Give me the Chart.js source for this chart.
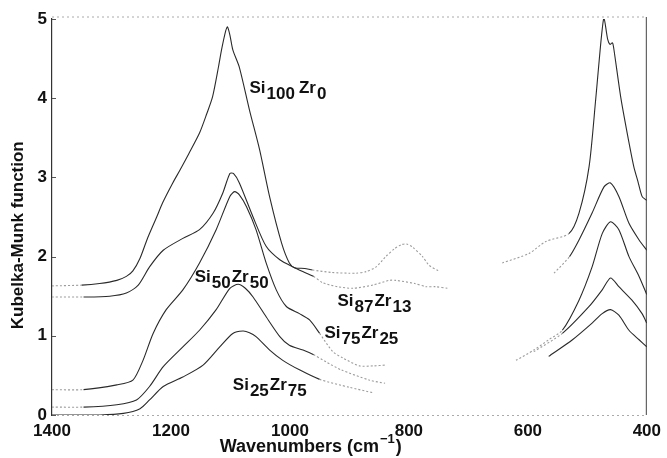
<!DOCTYPE html>
<html>
<head>
<meta charset="utf-8">
<title>Kubelka-Munk spectra</title>
<script src="https://cdn.jsdelivr.net/npm/chart.js@4.4.1/dist/chart.umd.min.js"></script>
<style>
  html, body { margin: 0; padding: 0; background: #fff; }
  #wrap { width: 667px; height: 458px; position: relative; }
</style>
</head>
<body>
<div id="wrap"><canvas id="chart"></canvas></div>
<script>
// ---- data (wavenumber cm-1 / K-M value, null = no data) ----
const wnSi100 = [1400, 1350, 1320, 1291, 1275, 1264, 1252, 1240, 1224, 1214, 1197, 1185, 1170, 1152, 1140, 1130, 1120, 1115, 1108, 1105, 1101, 1096, 1085, 1068, 1051, 1034, 1014, 1001, 992, 975, 962, 930, 900, 889, 872, 855, 839, 824, 813, 804, 794, 777, 766, 750, 700, 643, 598, 570, 531, 514, 497, 486, 481, 476, 472, 466, 462, 458, 456, 444, 433, 422, 415, 408, 402, 400];
const kmSi100 = [1.63, 1.64, 1.66, 1.70, 1.75, 1.82, 1.98, 2.22, 2.50, 2.68, 2.93, 3.09, 3.30, 3.56, 3.80, 4.02, 4.40, 4.61, 4.85, 4.90, 4.80, 4.61, 4.39, 3.85, 3.35, 2.75, 2.17, 1.92, 1.86, 1.85, 1.83, 1.80, 1.79, 1.79, 1.81, 1.87, 2.00, 2.10, 2.15, 2.16, 2.12, 2.00, 1.89, 1.82, null, 1.92, 2.04, 2.19, 2.29, 2.55, 3.14, 3.98, 4.40, 4.80, 5.01, 4.75, 4.68, 4.70, 4.65, 4.02, 3.56, 3.14, 2.95, 2.76, 2.72, 2.71];

const wnSi87 = [1400, 1347, 1303, 1275, 1255, 1236, 1213, 1180, 1152, 1129, 1113, 1101, 1095, 1085, 1062, 1040, 1017, 995, 975, 960, 945, 920, 894, 861, 833, 822, 790, 771, 755, 735, 650, 556, 530, 514, 492, 472, 461, 447, 430, 413, 400];
const kmSi87 = [1.49, 1.49, 1.50, 1.54, 1.64, 1.87, 2.08, 2.23, 2.34, 2.55, 2.80, 3.05, 3.05, 2.93, 2.50, 2.13, 1.96, 1.87, 1.80, 1.75, 1.67, 1.62, 1.60, 1.64, 1.70, 1.70, 1.66, 1.62, 1.62, 1.60, null, 1.79, 2.00, 2.21, 2.55, 2.88, 2.93, 2.76, 2.42, 2.21, 2.08];

const wnSi75 = [1400, 1347, 1291, 1264, 1247, 1230, 1208, 1180, 1152, 1124, 1101, 1093, 1085, 1073, 1057, 1040, 1023, 1006, 984, 967, 950, 928, 911, 883, 860, 839, 700, 620, 590, 565, 542, 514, 492, 475, 461, 447, 430, 413, 400];
const kmSi75 = [0.32, 0.32, 0.38, 0.44, 0.69, 1.03, 1.33, 1.58, 1.92, 2.34, 2.76, 2.82, 2.78, 2.63, 2.34, 1.92, 1.58, 1.37, 1.28, 1.20, 1.03, 0.80, 0.72, 0.62, 0.62, 0.63, null, 0.69, 0.82, 0.95, 1.07, 1.45, 1.87, 2.29, 2.44, 2.34, 2.00, 1.75, 1.52];

const wnSi50 = [1400, 1347, 1291, 1258, 1236, 1213, 1180, 1152, 1124, 1101, 1087, 1075, 1062, 1040, 1017, 1001, 978, 960, 939, 914, 866, 840, 700, 590, 542, 497, 475, 461, 447, 425, 408, 400];
const kmSi50 = [0.10, 0.10, 0.13, 0.19, 0.36, 0.61, 0.86, 1.07, 1.33, 1.60, 1.65, 1.60, 1.49, 1.24, 0.99, 0.88, 0.82, 0.76, 0.67, 0.57, 0.44, 0.40, null, 0.80, 1.03, 1.37, 1.58, 1.73, 1.62, 1.45, 1.28, 1.16];

const wnSi25 = [1400, 1319, 1280, 1252, 1236, 1213, 1180, 1146, 1118, 1096, 1079, 1068, 1057, 1034, 1012, 984, 950, 900, 860, 700, 565, 525, 492, 475, 461, 447, 430, 413, 400];
const kmSi25 = [0.00, 0.00, 0.02, 0.08, 0.19, 0.36, 0.48, 0.63, 0.86, 1.03, 1.06, 1.04, 0.99, 0.82, 0.69, 0.57, 0.45, 0.35, 0.28, null, 0.74, 0.95, 1.16, 1.28, 1.33, 1.26, 1.07, 0.95, 0.86];

// tick labels
const xTicks = [1400, 1200, 1000, 800, 600, 400];
const yTicks = [0, 1, 2, 3, 4, 5];

// curve labels: Si index, Zr index
const labelSi = ['100', '87', '75', '50', '25'];
const labelZr = ['0', '13', '25', '50', '75'];
// where each label sits (wavenumber, K-M value of the text baseline)
const labelWn = [1068, 920, 942, 1160, 1096];
const labelKm = [4.07, 1.38, 0.97, 1.68, 0.32];

// ---- styles ----
const INK = '#2a2a2a';
const FAINT = '#9c9c9c';
const FONT = '"Liberation Sans", Arial, sans-serif';

function toPoints(wn, km) {
  return wn.map((x, i) => ({ x: x, y: km[i] }));
}

// faded parts of the scan: flat baseline at the far left and the weak middle region
function isFaint(c) {
  const a = c.p0.parsed.x, b = c.p1.parsed.x;
  return b >= 1330 || (a <= 965 && b >= 530);
}

function makeSet(name, wn, km) {
  return {
    label: name,
    data: toPoints(wn, km),
    borderColor: INK,
    borderWidth: 1.1,
    pointRadius: 0,
    tension: 0.25,
    spanGaps: false,
    segment: {
      borderColor: c => isFaint(c) ? FAINT : undefined,
      borderDash: c => isFaint(c) ? [2, 2] : undefined
    }
  };
}

// frame, small inner ticks, axis titles and curve labels
const decor = {
  id: 'decor',
  beforeDatasetsDraw(chart) {
    const { ctx, chartArea: a, scales } = chart;
    ctx.save();
    ctx.lineWidth = 1;
    ctx.strokeStyle = '#aaa';
    ctx.setLineDash([2, 3]);
    ctx.beginPath();
    ctx.moveTo(a.left, a.top - 2); ctx.lineTo(a.right, a.top - 2);
    ctx.moveTo(a.left, a.bottom + 0.5); ctx.lineTo(a.right, a.bottom + 0.5);
    ctx.stroke();
    ctx.setLineDash([]);
    ctx.strokeStyle = '#444';
    ctx.beginPath();
    ctx.moveTo(a.right - 0.5, a.top - 2); ctx.lineTo(a.right - 0.5, a.bottom);
    ctx.stroke();
    // short inward ticks on the left axis
    ctx.strokeStyle = '#555';
    ctx.beginPath();
    yTicks.forEach(v => {
      const y = Math.round(scales.y.getPixelForValue(v)) + 0.5;
      ctx.moveTo(a.left, y); ctx.lineTo(a.left + 4, y);
    });
    ctx.stroke();
    ctx.restore();
  },
  afterDraw(chart) {
    const { ctx, chartArea: a, scales } = chart;
    ctx.save();
    ctx.fillStyle = '#111';

    // y title
    ctx.font = 'bold 17px ' + FONT;
    ctx.textAlign = 'center';
    ctx.textBaseline = 'middle';
    ctx.translate(18, scales.y.getPixelForValue(2.27));
    ctx.rotate(-Math.PI / 2);
    ctx.fillText('Kubelka-Munk function', 0, 0);
    ctx.setTransform(1, 0, 0, 1, 0, 0);

    // x title with superscript
    ctx.textAlign = 'left';
    ctx.textBaseline = 'alphabetic';
    const main = 'Wavenumbers (cm';
    ctx.font = 'bold 18px ' + FONT;
    const wMain = ctx.measureText(main).width;
    const wEnd = ctx.measureText(')').width;
    ctx.font = 'bold 13px ' + FONT;
    const wSup = ctx.measureText('\u22121').width;
    const cx = scales.x.getPixelForValue(965);
    const x0 = cx - (wMain + wSup + 2 + wEnd) / 2;
    const base = a.bottom + 37;
    ctx.font = 'bold 18px ' + FONT;
    ctx.fillText(main, x0, base);
    ctx.font = 'bold 13px ' + FONT;
    ctx.fillText('\u22121', x0 + wMain + 1, base - 9);
    ctx.font = 'bold 18px ' + FONT;
    ctx.fillText(')', x0 + wMain + wSup + 2, base);

    // curve labels  Si_n Zr_m
    labelSi.forEach((si, i) => {
      let x = scales.x.getPixelForValue(labelWn[i]);
      const y = scales.y.getPixelForValue(labelKm[i]);
      const parts = [['Si', 0], [si, 6], ['Zr', 0], [labelZr[i], 6]];
      ctx.font = 'bold 17px ' + FONT;
      parts.forEach(([t, dy], k) => {
        ctx.fillText(t, x, y + dy);
        x += ctx.measureText(t).width + 1;
        if (k === 1 && i === 0) x += 3;
      });
    });
    ctx.restore();
  }
};

const datasets = [
  makeSet('Si100Zr0', wnSi100, kmSi100),
  makeSet('Si87Zr13', wnSi87, kmSi87),
  makeSet('Si75Zr25', wnSi75, kmSi75),
  makeSet('Si50Zr50', wnSi50, kmSi50),
  makeSet('Si25Zr75', wnSi25, kmSi25)
];

new Chart(document.getElementById('chart'), {
  type: 'line',
  data: { datasets },
  options: {
    responsive: true,
    maintainAspectRatio: false,
    animation: false,
    layout: { padding: { left: 0, top: 19, right: 19, bottom: 0 } },
    plugins: {
      legend: { display: false },
      tooltip: { enabled: false }
    },
    scales: {
      x: {
        type: 'linear',
        reverse: true,
        min: 400,
        max: 1400,
        afterFit: s => { s.height = 43; },
        afterBuildTicks: s => { s.ticks = xTicks.map(v => ({ value: v })); },
        grid: { display: false, drawTicks: false },
        border: { display: false },
        ticks: {
          padding: 6,
          maxRotation: 0,
          color: '#111',
          callback: v => String(v),
          font: { family: FONT, size: 17, weight: 'bold' }
        }
      },
      y: {
        min: 0,
        max: 5,
        afterFit: s => { s.width = 52; },
        afterBuildTicks: s => { s.ticks = yTicks.map(v => ({ value: v })); },
        grid: { display: false, drawTicks: false },
        border: { display: true, color: '#333', width: 1.2 },
        ticks: {
          padding: 5,
          color: '#111',
          callback: v => String(v),
          font: { family: FONT, size: 17, weight: 'bold' }
        }
      }
    }
  },
  plugins: [decor]
});
</script>
</body>
</html>
